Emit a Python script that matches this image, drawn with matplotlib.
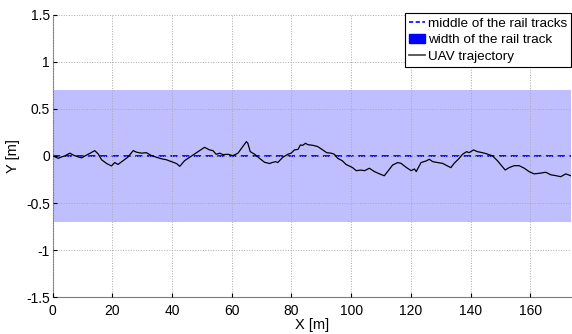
import matplotlib
matplotlib.use("Agg")
import matplotlib.pyplot as plt
from matplotlib.patches import Patch
from matplotlib.lines import Line2D

plt.rcParams["font.family"] = ["Liberation Sans", "DejaVu Sans"]
plt.rcParams["font.size"] = 10

# track geometry
TRACK_HALF_WIDTH = 0.7
TRACK_MIDDLE = 0.0

# UAV trajectory
traj_x = [0.2, 1.9, 3.0, 4.0, 5.8, 6.9, 8.6, 9.7, 11.4, 12.6, 14.1, 15.3, 16.4,
          18.1, 19.7, 20.8, 21.9, 23.6, 25.3, 27.0, 28.1, 29.8, 31.4, 33.1,
          34.8, 36.5, 38.1, 39.8, 41.5, 42.6, 44.2, 45.9, 48.2, 50.9, 52.6,
          53.7, 54.8, 56.0, 57.1, 58.7, 60.4, 62.1, 63.7, 64.9, 65.4, 66.2,
          67.7, 69.3, 71.0, 72.7, 73.5, 74.7, 75.4, 77.1, 78.8, 79.9, 81.0,
          82.2, 83.0, 83.8, 84.7, 85.5, 87.2, 88.8, 90.5, 91.8, 93.3, 94.4,
          95.5, 97.0, 98.3, 100.5, 101.7, 103.3, 104.5, 106.1, 107.8, 109.5,
          111.1, 112.2, 113.9, 115.6, 116.7, 118.4, 120.1, 121.2, 121.8, 123.4,
          125.1, 126.2, 127.3, 129.0, 130.6, 132.3, 133.4, 134.5, 136.2, 137.3,
          138.7, 139.5, 141.0, 142.3, 144.0, 145.7, 147.4, 149.0, 150.2, 151.6,
          152.9, 154.6, 156.3, 158.0, 159.6, 161.3, 163.0, 165.2, 166.9, 168.6,
          170.2, 171.9, 173.6]
traj_y = [0.0, -0.025, -0.01, 0.0, 0.03, 0.01, -0.01, -0.02, 0.01, 0.03, 0.057,
          0.02, -0.04, -0.08, -0.106, -0.07, -0.09, -0.05, -0.01, 0.057, 0.04,
          0.03, 0.035, 0.004, -0.014, -0.03, -0.04, -0.06, -0.08, -0.11, -0.05,
          -0.014, 0.035, 0.092, 0.064, 0.057, 0.018, 0.03, 0.014, 0.018, 0.004,
          0.03, 0.1, 0.152, 0.135, 0.046, 0.018, -0.025, -0.067, -0.08, -0.07,
          -0.06, -0.07, -0.014, 0.018, 0.03, 0.064, 0.07, 0.117, 0.113, 0.135,
          0.12, 0.113, 0.1, 0.064, 0.035, 0.03, 0.018, -0.025, -0.05, -0.09,
          -0.124, -0.156, -0.15, -0.156, -0.13, -0.166, -0.19, -0.21, -0.166,
          -0.096, -0.07, -0.078, -0.12, -0.156, -0.138, -0.166, -0.07, -0.053,
          -0.035, -0.06, -0.07, -0.078, -0.106, -0.124, -0.078, -0.025, 0.018,
          0.046, 0.035, 0.064, 0.046, 0.035, 0.02, 0.0, -0.05, -0.096, -0.149,
          -0.124, -0.103, -0.103, -0.13, -0.166, -0.19, -0.184, -0.173, -0.2,
          -0.209, -0.22, -0.19, -0.21]

x_ticks = [0, 20, 40, 60, 80, 100, 120, 140, 160]
y_ticks = [-1.5, -1, -0.5, 0, 0.5, 1, 1.5]
y_tick_labels = ["-1.5", "-1", "-0.5", "0", "0.5", "1", "1.5"]

fig = plt.figure(figsize=(5.72, 3.34), dpi=100)
ax = fig.add_axes([0.092, 0.110, 0.906, 0.846])

ax.axhspan(TRACK_MIDDLE - TRACK_HALF_WIDTH, TRACK_MIDDLE + TRACK_HALF_WIDTH,
           color="#bfbfff", lw=0, zorder=0.5)
ax.axhline(TRACK_MIDDLE, color="#0000ff", ls=(0, (4, 2.5)), lw=1.3, zorder=2)
ax.plot(traj_x, traj_y, color="black", lw=0.9, zorder=3)

ax.set_xlim(0, 173.6)
ax.set_ylim(-1.5, 1.5)
ax.set_xticks(x_ticks)
ax.set_yticks(y_ticks)
ax.set_yticklabels(y_tick_labels)
ax.grid(True, color="#a8a8a8", ls=":", lw=0.7)
ax.set_axisbelow(False)
ax.tick_params(direction="in", length=3, colors="black")
ax.tick_params(axis="x", pad=4.5)
ax.tick_params(axis="y", pad=2)
ax.spines[["top", "right"]].set_visible(False)
for s in ("left", "bottom"):
    ax.spines[s].set_color("#7a7a7a")
ax.set_xlabel("X [m]", fontsize=10.5, labelpad=0)
ax.set_ylabel("Y [m]", fontsize=10.5, labelpad=4)

handles = [
    Line2D([], [], color="#0000ff", ls=(0, (2.5, 1.5)), lw=1.2),
    Patch(facecolor="#0000ff", edgecolor="#0000ff"),
    Line2D([], [], color="#404040", lw=1.2),
]
labels = ["middle of the rail tracks", "width of the rail track", "UAV trajectory"]
leg = ax.legend(handles, labels, loc="upper right", bbox_to_anchor=(1.0, 1.005),
                fancybox=False, framealpha=1, edgecolor="black", fontsize=9.7,
                handlelength=1.2, handletextpad=0.2, borderpad=0.3,
                labelspacing=0.3, borderaxespad=0)
leg.get_frame().set_linewidth(0.8)

fig.savefig("out.png", dpi=100)
